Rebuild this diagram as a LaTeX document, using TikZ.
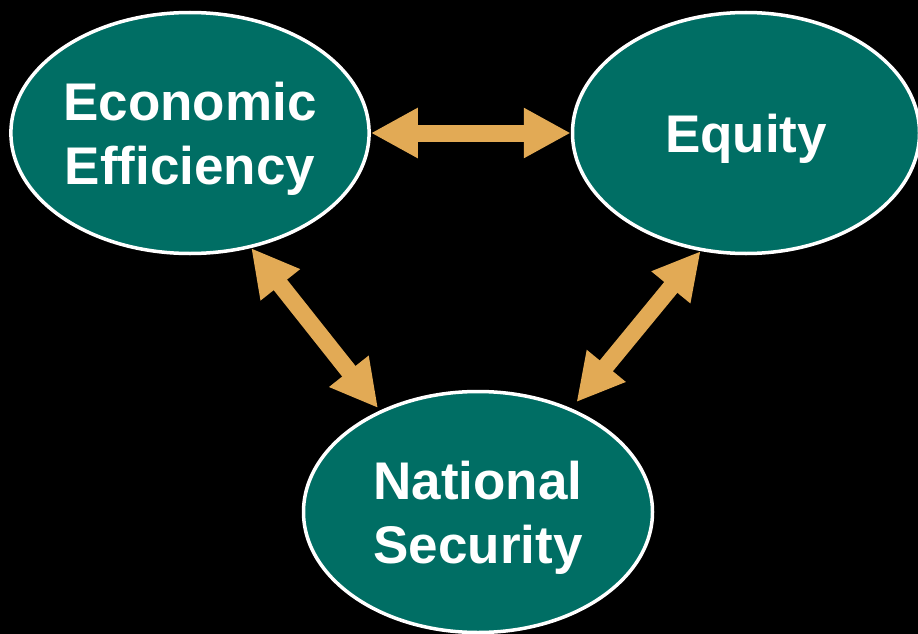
\documentclass[tikz,border=0pt]{standalone}
\usepackage{fontspec}
\setmainfont{Liberation Sans}
\usetikzlibrary{shapes.geometric,arrows.meta}
\definecolor{teal}{HTML}{006E64}
\definecolor{tan}{HTML}{E2AA55}
\tikzset{
  goal/.style={ellipse, draw=white, line width=3.5pt, fill=teal, inner sep=0pt,
    text=white, font=\bfseries\fontsize{53}{64}\selectfont, align=center,
    text depth=0pt},
  fat/.style={draw=tan, line width=17pt,
    {Triangle[length=47pt,width=47pt]}-{Triangle[length=47pt,width=47pt]},
    shorten <=0pt, shorten >=0pt}
}
\begin{document}
\begin{tikzpicture}[x=1pt,y=-1pt]
  \fill[black] (0,0) rectangle (918,634);
  \useasboundingbox (0,0) rectangle (918,634);
  \node[goal, minimum width=351pt, minimum height=241pt] (ee) at (190,133) {Economic\\Efficiency};
  \node[goal, minimum width=347pt, minimum height=241pt] (eq) at (746,133) {Equity};
  \node[goal, minimum width=349pt, minimum height=241pt] (ns) at (478,512) {National\\Security};
  \draw[fat] (ee.east) -- (eq.west);
  \draw[fat, shorten >=3pt] (ee.-62) -- (ns.134);
  \draw[fat, shorten >=8pt] (eq.-111) -- (ns.48);
\end{tikzpicture}
\end{document}
